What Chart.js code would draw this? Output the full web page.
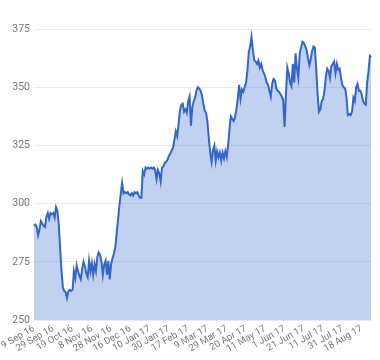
<!DOCTYPE html>
<html>
<head>
<meta charset="utf-8">
<script src="https://cdn.jsdelivr.net/npm/chart.js@4/dist/chart.umd.min.js"></script>
<style>
  html, body { margin: 0; padding: 0; background: #fff; }
  #wrap { width: 380px; height: 360px; }
</style>
</head>
<body>
<div id="wrap"><canvas id="priceChart"></canvas></div>
<script>
// date labels shown on the x axis, one every 14 trading days
var tickLabels = ['9 Sep 16', '29 Sep 16', '19 Oct 16', '8 Nov 16', '28 Nov 16', '16 Dec 16',
    '10 Jan 17', '30 Jan 17', '17 Feb 17', '9 Mar 17', '29 Mar 17', '20 Apr 17',
    '11 May 17', '1 Jun 17', '21 Jun 17', '11 Jul 17', '31 Jul 17', '18 Aug 17'];
var tickEvery = 14;

// daily closing prices
var prices = [
    290.5, 291, 290, 286.5, 289, 292.5, 291.5, 290.5, 290, 294.5,
    296, 293.5, 296, 295.5, 296, 294, 298.5, 297, 291, 281,
    271, 264, 262.5, 262, 259.5, 262.5, 263, 262.5, 263, 271,
    268, 273.5, 271, 269, 267.5, 272, 275, 273, 270, 268.5,
    275.5, 271, 274.5, 269.5, 274, 271, 277, 279, 278, 275,
    269.5, 274, 275.5, 269.5, 275.5, 267.5, 274, 276.5, 278.5, 281,
    287, 293, 299, 304, 309, 304.5, 305, 304.5, 305, 304,
    303.5, 304.5, 303.5, 305, 304.5, 305, 303.5, 302.5, 302.5, 314,
    312.5, 315.5, 315, 315.5, 315, 315.5, 315, 315.5, 314.5, 310.5,
    314.5, 313, 309.5, 315.5, 316, 317.5, 318, 319, 320.5, 321.5,
    323, 324, 327.5, 331, 329, 334, 340, 342.5, 343, 339.5,
    340.5, 339, 344, 346, 333.5, 341.5, 344, 345.5, 348.5, 350,
    349.5, 348.5, 346.5, 343, 340, 339, 335, 328, 322, 318,
    323, 325, 318.5, 322.5, 320, 322, 318.5, 322, 319.5, 322.5,
    320, 325, 332, 337.5, 336.5, 335.5, 337, 340.5, 345, 351,
    345, 349, 348, 350, 352, 357, 365, 367.5, 371.5, 366,
    361.5, 361, 360, 361.5, 358.5, 360, 357.5, 356, 354.5, 352,
    351, 348.5, 346, 351.5, 353.5, 353, 349.5, 348.5, 348, 347,
    346, 344.5, 333, 347, 358.5, 356, 352, 350.5, 360, 352,
    364.5, 358, 354, 364.5, 367, 369.5, 369, 367.5, 366, 362.5,
    359.5, 362, 365.5, 367.5, 367, 358, 347, 339.5, 340.5, 344,
    345, 348.5, 354.5, 358, 357, 354, 359, 360, 361, 356,
    360, 357.5, 358, 354, 351, 350, 349.5, 345.5, 338, 338.5,
    338, 339.5, 345.5, 344, 350, 351.5, 348.5, 348.5, 347, 344,
    343, 342.5, 352, 357, 363.5, 363
];

var yMin = 250, yMax = 375, yStep = 25;

var categories = prices.map(function (p, i) {
    return i % tickEvery === 0 && tickLabels[i / tickEvery] ? tickLabels[i / tickEvery] : '';
});

var tickColor = '#777777';

new Chart(document.getElementById('priceChart'), {
    type: 'line',
    data: {
        labels: categories,
        datasets: [{
            data: prices,
            borderColor: '#3366cc',
            backgroundColor: 'rgba(51,102,204,0.3)',
            borderWidth: 2,
            pointRadius: 0,
            tension: 0,
            fill: 'start'
        }]
    },
    options: {
        responsive: true,
        maintainAspectRatio: false,
        animation: false,
        layout: { padding: { top: 29, right: 6, left: 1, bottom: 2 } },
        plugins: {
            legend: { display: false },
            tooltip: { enabled: false }
        },
        scales: {
            x: {
                grid: { display: false, drawTicks: false },
                border: { display: false },
                // keep the plot's left edge where the reference has it
                afterFit: function (scale) { scale.paddingLeft = 34; },
                ticks: {
                    autoSkip: false,
                    maxRotation: 30,
                    minRotation: 30,
                    padding: 3,
                    color: tickColor,
                    font: { family: 'Roboto', size: 9.5 }
                }
            },
            y: {
                min: yMin,
                max: yMax,
                grid: { color: '#ebebeb', drawTicks: false },
                border: { display: false },
                ticks: {
                    stepSize: yStep,
                    padding: 4,
                    color: tickColor,
                    font: { family: 'Roboto', size: 10.5 }
                }
            }
        }
    }
});
</script>
</body>
</html>
